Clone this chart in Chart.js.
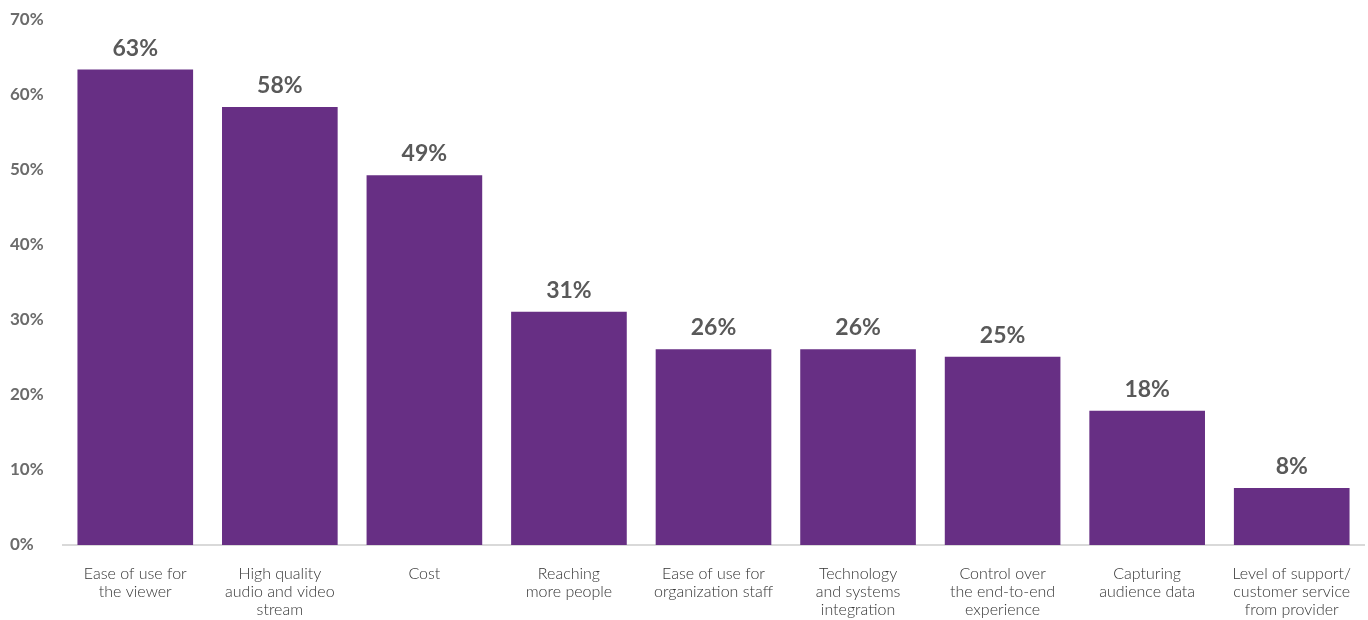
<!DOCTYPE html>
<html>
<head>
<meta charset="utf-8">
<script src="https://cdn.jsdelivr.net/npm/chart.js@4/dist/chart.umd.min.js"></script>
<style>
  html, body { margin: 0; padding: 0; background: #ffffff; }
  #wrap { width: 1368px; height: 620px; }
</style>
</head>
<body>
<div id="wrap"><canvas id="chart1"></canvas></div>
<script>
// categories (multi-line labels)
var categories = [
    ["Ease of use for", "the viewer"],
    ["High quality", "audio and video", "stream"],
    ["Cost"],
    ["Reaching", "more people"],
    ["Ease of use for", "organization staff"],
    ["Technology", "and systems", "integration"],
    ["Control over", "the end-to-end", "experience"],
    ["Capturing", "audience data"],
    ["Level of support/", "customer service", "from provider"]
];

// share of respondents (%)
var values = [63.4, 58.4, 49.3, 31.1, 26.1, 26.1, 25.1, 17.9, 7.6];

// y axis ticks
var yTicks = [0, 10, 20, 30, 40, 50, 60, 70];

var barColor = '#672f84';

// draws the "63%" labels above each bar
var valueLabels = {
    id: 'valueLabels',
    afterDatasetsDraw: function(chart) {
        var ctx = chart.ctx;
        var meta = chart.getDatasetMeta(0);
        ctx.save();
        ctx.font = 'bold 23px Lato, "Open Sans", sans-serif';
        ctx.fillStyle = '#595959';
        ctx.textAlign = 'center';
        ctx.textBaseline = 'alphabetic';
        meta.data.forEach(function(bar, i) {
            ctx.fillText(Math.round(values[i]) + '%', bar.x, bar.y - 14);
        });
        ctx.restore();
    }
};

new Chart(document.getElementById("chart1"), {
    type: 'bar',
    data: {
        labels: categories,
        datasets: [{
            data: values,
            backgroundColor: barColor,
            borderWidth: 0,
            barPercentage: 0.8,
            categoryPercentage: 1.0
        }]
    },
    options: {
        responsive: true,
        maintainAspectRatio: false,
        animation: false,
        layout: {
            padding: { top: 20, left: 10, right: 4, bottom: 0 }
        },
        plugins: {
            legend: { display: false },
            tooltip: { enabled: false }
        },
        scales: {
            x: {
                grid: { display: false, drawTicks: false },
                border: { display: true, color: '#d9d9d9', width: 2 },
                ticks: {
                    color: '#333333',
                    font: { family: 'Lato, "Open Sans", sans-serif', size: 16, weight: 300, lineHeight: 1.12 },
                    padding: 20,
                    maxRotation: 0,
                    autoSkip: false
                },
                afterFit: function(scale) {
                    scale.height = 75;
                    scale.paddingLeft = 0;
                    scale.paddingRight = 0;
                }
            },
            y: {
                min: 0,
                max: 70,
                afterBuildTicks: function(scale) {
                    scale.ticks = yTicks.map(function(v) { return { value: v }; });
                },
                grid: { display: false, drawTicks: false },
                border: { display: false },
                ticks: {
                    color: '#6b6b6b',
                    crossAlign: 'far',
                    padding: 0,
                    font: { family: 'Lato, "Open Sans", sans-serif', size: 17, weight: 'bold' },
                    callback: function(v) { return v + '%'; }
                },
                afterFit: function(scale) { scale.width = 53; }
            }
        }
    },
    plugins: [valueLabels]
});
</script>
</body>
</html>
